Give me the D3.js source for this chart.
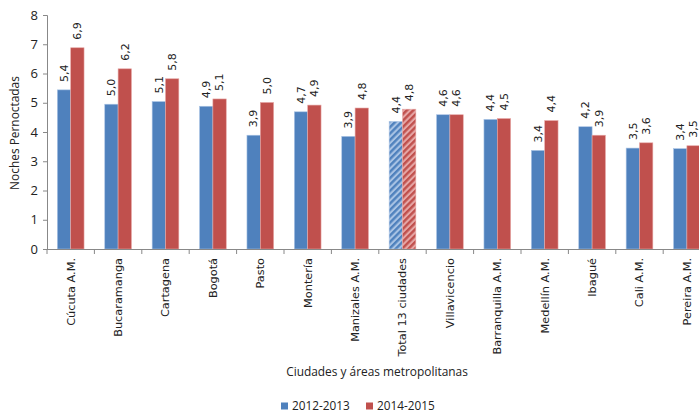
<!DOCTYPE html>
<html><head><meta charset="utf-8">
<script src="https://cdn.jsdelivr.net/npm/d3@7"></script>
<style>body{margin:0;background:#fff}svg{display:block}</style>
</head><body><svg id="c" width="699" height="414"></svg>
<script>
const categories = ["Cúcuta A.M.","Bucaramanga","Cartagena","Bogotá","Pasto","Montería","Manizales A.M.","Total 13 ciudades","Villavicencio","Barranquilla A.M.","Medellín A.M.","Ibagué","Cali A.M.","Pereira A.M."];
const series = ["2012-2013","2014-2015"];
const values2012 = [5.44,4.95,5.04,4.88,3.89,4.69,3.85,4.36,4.59,4.43,3.37,4.18,3.45,3.43];
const values2014 = [6.88,6.16,5.82,5.13,5.01,4.92,4.82,4.78,4.59,4.46,4.39,3.89,3.63,3.53];
const labels2012 = ["5,4","5,0","5,1","4,9","3,9","4,7","3,9","4,4","4,6","4,4","3,4","4,2","3,5","3,4"];
const labels2014 = ["6,9","6,2","5,8","5,1","5,0","4,9","4,8","4,8","4,6","4,5","4,4","3,9","3,6","3,5"];
const yTicks = [0,1,2,3,4,5,6,7,8];
const colors = ["#4F81BD","#C0504D"];
const lightColors = ["#A9C3E4","#E6A7A6"];
const highlight = "Total 13 ciudades";

const svg = d3.select("#c");
const mLeft = 47, mBottom = 249, mTop = 15, mRight = 710.6;
const font = "'Open Sans', sans-serif";

const x = d3.scaleBand().domain(categories).range([mLeft, mRight]).paddingInner(0.437).paddingOuter(0.2185);
const xs = d3.scaleBand().domain(series).range([0, x.bandwidth()]).padding(0);
const y = d3.scaleLinear().domain([0, 8]).range([mBottom, mTop]);

const defs = svg.append("defs");
series.forEach((s, i) => {
  const p = defs.append("pattern").attr("id", "hatch" + i).attr("patternUnits", "userSpaceOnUse")
    .attr("width", 4.5).attr("height", 4.5).attr("patternTransform", "rotate(45)");
  p.append("rect").attr("width", 4.5).attr("height", 4.5).attr("fill", lightColors[i]);
  p.append("rect").attr("width", 2.4).attr("height", 4.5).attr("fill", colors[i]);
});

const data = [];
categories.forEach((c, ci) => {
  [values2012, values2014].forEach((vals, si) => {
    data.push({c, s: series[si], si, v: vals[ci], label: [labels2012, labels2014][si][ci]});
  });
});

// bars
svg.append("g").selectAll("rect").data(data).join("rect")
  .attr("x", d => x(d.c) + xs(d.s))
  .attr("y", d => y(d.v))
  .attr("width", xs.bandwidth())
  .attr("height", d => y(0) - y(d.v))
  .attr("fill", d => d.c === highlight ? `url(#hatch${d.si})` : colors[d.si])
  .attr("stroke", d => lightColors[d.si])
  .attr("stroke-width", 0.6);

// data labels
svg.append("g").selectAll("text").data(data).join("text")
  .attr("transform", d => `translate(${x(d.c) + xs(d.s) + xs.bandwidth()/2},${y(d.v) - 8}) rotate(-90)`)
  .attr("dy", "0.35em")
  .attr("text-anchor", "start")
  .attr("font-family", "'DejaVu Sans', sans-serif")
  .attr("font-size", 11)
  .attr("fill", "#222")
  .text(d => d.label);

// y axis
const yAxis = svg.append("g").attr("transform", `translate(${mLeft},0)`)
  .call(d3.axisLeft(y).tickValues(yTicks).tickSize(4).tickPadding(5).tickFormat(d3.format("d")));
yAxis.select(".domain").attr("stroke", "#888");
yAxis.selectAll(".tick line").attr("stroke", "#888");
yAxis.selectAll("text").attr("font-family", font).attr("font-size", 13).attr("fill", "#222");

// x axis
const xg = svg.append("g");
xg.append("line").attr("x1", mLeft).attr("x2", 699).attr("y1", mBottom + 0.5).attr("y2", mBottom + 0.5).attr("stroke", "#888");
const halfGap = (x.step() - x.bandwidth()) / 2;
xg.selectAll("line.t").data(categories).join("line").attr("class", "t")
  .attr("x1", d => x(d) - halfGap).attr("x2", d => x(d) - halfGap)
  .attr("y1", mBottom).attr("y2", mBottom + 5).attr("stroke", "#888");
xg.selectAll("text").data(categories).join("text")
  .attr("transform", d => `translate(${x(d) + x.bandwidth()/2},${mBottom + 9}) rotate(-90)`)
  .attr("dy", "0.35em")
  .attr("text-anchor", "end")
  .attr("font-family", "'DejaVu Sans', sans-serif")
  .attr("font-size", 11.3)
  .attr("fill", "#222")
  .text(d => d);

// axis titles
svg.append("text").attr("x", 377).attr("y", 376).attr("text-anchor", "middle")
  .attr("font-family", font).attr("font-size", 11.9).attr("fill", "#222").text("Ciudades y áreas metropolitanas");
svg.append("text").attr("transform", "translate(19,133) rotate(-90)").attr("text-anchor", "middle")
  .attr("font-family", font).attr("font-size", 11.9).attr("fill", "#222").text("Noches Pernoctadas");

// legend
const legX = [281, 366];
const lg = svg.append("g").selectAll("g").data(series).join("g")
  .attr("transform", (d, i) => `translate(${legX[i]},406)`);
lg.append("rect").attr("x", 0).attr("y", -3.5).attr("width", 7).attr("height", 7).attr("fill", (d, i) => colors[i]);
lg.append("text").attr("x", 11).attr("y", 0).attr("dy", "0.35em").attr("font-family", font).attr("font-size", 11.8)
  .attr("fill", "#222").text(d => d);
</script></body></html>
